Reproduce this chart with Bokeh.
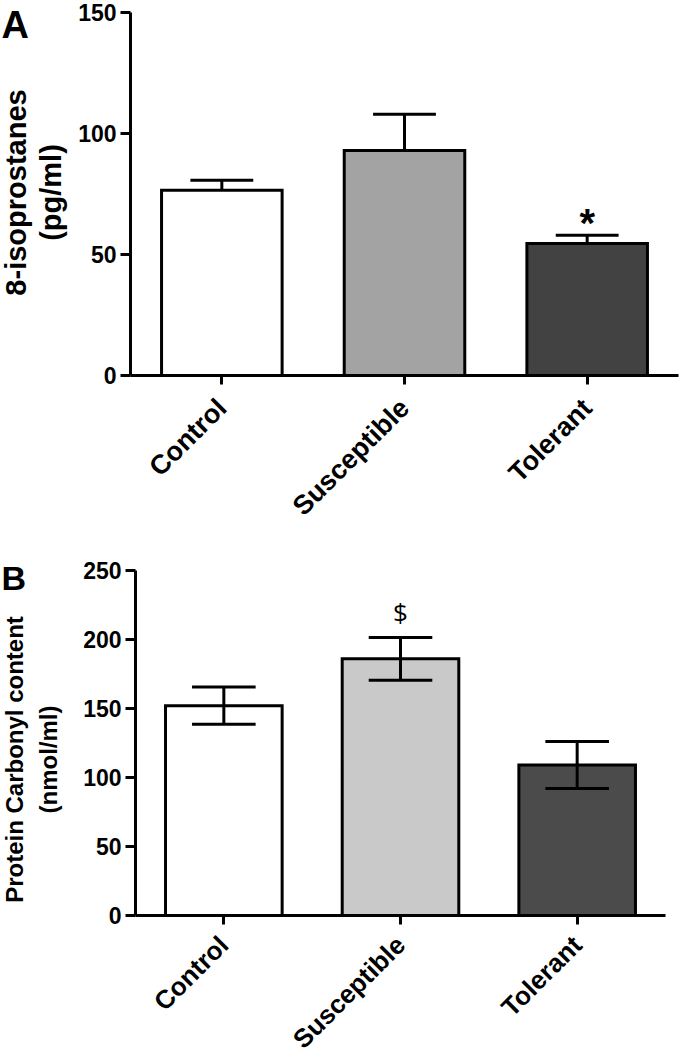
import math
from bokeh.plotting import figure
from bokeh.models import Range1d, FixedTicker, ColumnDataSource
from bokeh.layouts import column
from bokeh.embed import file_html
from bokeh.resources import INLINE
from bokeh.core.properties import value

# ---------------- data ----------------
categories = ["Control", "Susceptible", "Tolerant"]

iso_mean = [76.5, 93.0, 54.5]
iso_sem = [4.2, 15.0, 3.5]
iso_colors = ["#ffffff", "#a3a3a3", "#424242"]
iso_marks = ["", "", "*"]
iso_ticks = [0, 50, 100, 150]
iso_title = ["8-isoprostanes", "(pg/ml)"]

pc_mean = [152.0, 186.0, 109.0]
pc_sem = [13.5, 15.5, 17.0]
pc_colors = ["#ffffff", "#c9c9c9", "#4b4b4b"]
pc_marks = ["", "$", ""]
pc_ticks = [0, 50, 100, 150, 200, 250]
pc_title = ["Protein Carbonyl content", "(nmol/ml)"]

FONT = "Liberation Sans"
W = 680


def make(height, x0px, x1px, y0px, ytoppx, ymax, means, sems, colors, marks,
         ticks, both_sides, cap_half, mark_font, mark_size, mark_style,
         mark_offset, letter, letter_pos, letter_size, title, title_x,
         title_y, title_size, xlab_size, xlab_standoff):
    n = len(categories)
    xs = [i + 0.5 for i in range(n)]
    xppu = (x1px - x0px) / n
    yppu = (y0px - ytoppx) / ymax

    def dx(px):
        return (px - x0px) / xppu

    def dy(py):
        return (y0px - py) / yppu

    p = figure(width=W, height=height, output_backend="svg",
               toolbar_location=None,
               x_range=Range1d(dx(0), dx(W)),
               y_range=Range1d(dy(height), dy(0)),
               min_border=0, min_border_left=0, min_border_right=0,
               min_border_top=0, min_border_bottom=0)
    p.outline_line_color = None
    p.xgrid.visible = False
    p.ygrid.visible = False
    p.background_fill_color = "white"
    p.border_fill_color = "white"

    src = ColumnDataSource(dict(
        x=xs, top=means, color=colors,
        lo=[m - s if both_sides else m for m, s in zip(means, sems)],
        hi=[m + s for m, s in zip(means, sems)],
        cl=[x - cap_half for x in xs], cr=[x + cap_half for x in xs],
        mark=marks))

    p.vbar(x="x", top="top", bottom=0, width=0.66, fill_color="color",
           line_color="black", line_width=3, line_join="miter", source=src)
    p.segment(x0="x", y0="lo", x1="x", y1="hi", line_color="black",
              line_width=3, source=src)
    p.segment(x0="cl", y0="hi", x1="cr", y1="hi", line_color="black",
              line_width=3, source=src)
    if both_sides:
        p.segment(x0="cl", y0="lo", x1="cr", y1="lo", line_color="black",
                  line_width=3, source=src)
    p.text(x="x", y="hi", text="mark", source=src, text_align="center",
           text_baseline="middle", text_font=value(mark_font),
           text_font_size=mark_size, text_font_style=mark_style,
           y_offset=mark_offset, text_color="black")

    for ax in (p.xaxis[0], p.yaxis[0]):
        ax.axis_line_width = 3
        ax.axis_line_color = "black"
        ax.major_tick_line_width = 3
        ax.major_tick_line_color = "black"
        ax.major_tick_in = 0
        ax.minor_tick_line_color = None
        ax.major_label_text_font = FONT
        ax.major_label_text_font_style = "bold"
        ax.major_label_text_color = "black"
        ax.fixed_location = 0

    ya = p.yaxis[0]
    ya.ticker = FixedTicker(ticks=ticks)
    ya.bounds = (0, ymax)
    ya.major_tick_out = 10
    ya.major_label_text_font_size = "23px"
    ya.major_label_standoff = 4

    xa = p.xaxis[0]
    xa.ticker = FixedTicker(ticks=xs)
    xa.bounds = (0, n)
    xa.major_label_overrides = {x: c for x, c in zip(xs, categories)}
    xa.major_tick_out = 9
    xa.major_label_orientation = math.pi / 4
    xa.major_label_text_font_size = xlab_size
    xa.major_label_standoff = xlab_standoff

    # panel letter
    lsrc = ColumnDataSource(dict(x=[dx(letter_pos[0])], y=[dy(letter_pos[1])],
                                 t=[letter]))
    p.text(x="x", y="y", text="t", source=lsrc, text_align="left",
           text_baseline="alphabetic", text_font=value(FONT),
           text_font_style="bold", text_font_size=letter_size,
           text_color="black")
    # y-axis title (two lines, rotated)
    tsrc = ColumnDataSource(dict(x=[dx(px) for px in title_x],
                                 y=[dy(title_y)] * len(title), t=title))
    p.text(x="x", y="y", text="t", source=tsrc, angle=math.pi / 2,
           text_align="center", text_baseline="middle",
           text_font=value(FONT), text_font_style="bold",
           text_font_size=title_size, text_color="black")
    return p


top = make(545, 130, 678, 375, 12, 150, iso_mean, iso_sem, iso_colors,
           iso_marks, iso_ticks, False, 0.172, FONT, "40px", "bold", -12,
           "A", (1, 24), "38px", iso_title, [15.5, 50], 192, "29px",
           "27px", 19)

bot = make(513, 135, 665, 370, 25, 250, pc_mean, pc_sem, pc_colors,
           pc_marks, pc_ticks, True, 0.18, "Open Sans", "26px", "normal",
           -25, "B", (1, 32), "34px", pc_title, [14, 48], 214, "24px",
           "26px", 16)

layout = column(top, bot, spacing=0)
open("out.html", "w").write(file_html(layout, INLINE))
